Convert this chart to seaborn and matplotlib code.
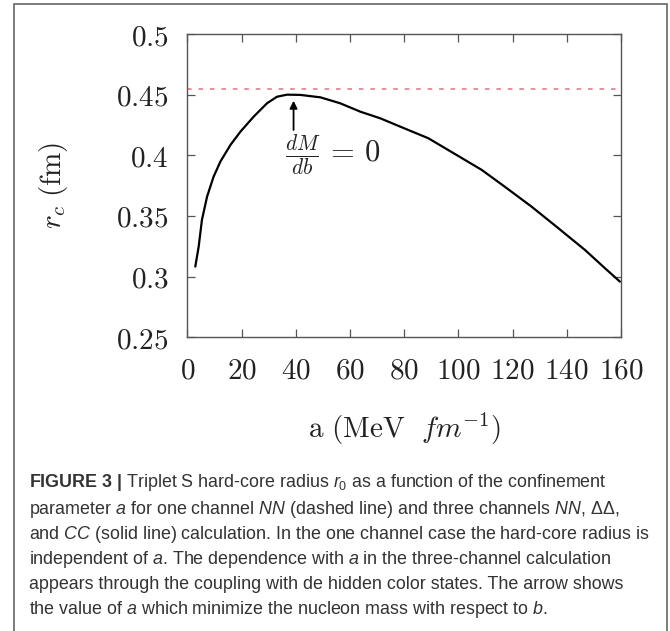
import matplotlib
matplotlib.use("Agg")
import matplotlib.pyplot as plt
import seaborn as sns
import numpy as np
import pandas as pd
from matplotlib import font_manager
from matplotlib.patches import Rectangle

# ---------------- data ----------------
a_vals = [2.95, 4.2, 5.4, 7.3, 9.7, 12.2, 15.9, 19.6, 24.5, 29.4, 33.1, 36.8,
          41.7, 49.1, 56.4, 63.8, 71.2, 78.6, 88.9, 98.8, 108.6, 117.2, 127.0,
          136.9, 146.7, 154.1, 159.6]
rc_vals = [0.3083, 0.3248, 0.3468, 0.3660, 0.3824, 0.3948, 0.4085, 0.4195,
           0.4319, 0.4429, 0.4483, 0.4500, 0.4498, 0.4478, 0.4429, 0.4360,
           0.4305, 0.4236, 0.4141, 0.4010, 0.3880, 0.3740, 0.3577, 0.3399,
           0.3220, 0.3069, 0.2959]
nn_a = [0, 160]
nn_rc = [0.4547, 0.4547]
arrow_a = 39.2
arrow_from = 0.4209
arrow_to = 0.4450
xticks = [0, 20, 40, 60, 80, 100, 120, 140, 160]
xtick_labels = ["0", "20", "40", "60", "80", "100", "120", "140", "160"]
yticks = [0.25, 0.30, 0.35, 0.40, 0.45, 0.50]
ytick_labels = ["0.25", "0.3", "0.35", "0.4", "0.45", "0.5"]
caption_lines = [
    r"$\mathbf{FIGURE\ 3\ |}$ Triplet S hard-core radius $r_0$ as a function of the confinement",
    r"parameter $a$ for one channel $NN$ (dashed line) and three channels $NN$, ΔΔ,",
    r"and $CC$ (solid line) calculation. In the one channel case the hard-core radius is",
    r"independent of $a$. The dependence with $a$ in the three-channel calculation",
    r"appears through the coupling with de hidden color states. The arrow shows",
    r"the value of $a$ which minimize the nucleon mass with respect to $b$.",
]

# ---------------- style ----------------
sns.set_style("ticks")
plt.rcParams["mathtext.fontset"] = "cm"
names = {f.name for f in font_manager.fontManager.ttflist}
cap_font = "Liberation Sans Narrow" if "Liberation Sans Narrow" in names else "Liberation Sans"
plt.rcParams["mathtext.rm"] = cap_font
plt.rcParams["mathtext.it"] = cap_font + ":italic"
plt.rcParams["mathtext.bf"] = cap_font + ":bold"

W, H = 670, 631
fig = plt.figure(figsize=(W / 100, H / 100), dpi=100)
ax = fig.add_axes([187.3 / W, 1 - 337.3 / H, (621 - 187.3) / W, (337.3 - 34) / H])

df = pd.DataFrame({"a": a_vals, "rc": rc_vals})
sns.lineplot(data=df, x="a", y="rc", ax=ax, color="black", linewidth=1.6, sort=True)
sns.lineplot(x=nn_a, y=nn_rc, ax=ax, color="#e07383", linewidth=1.1,
             linestyle=(0, (3, 4.5)))

ax.set_xlim(0, 160)
ax.set_ylim(0.25, 0.5)
ax.set_xticks(xticks)
ax.set_xticklabels(["$" + t + "$" for t in xtick_labels])
ax.set_yticks(yticks)
ax.set_yticklabels(["$" + t + "$" for t in ytick_labels])
ax.tick_params(axis="both", which="both", direction="in", length=5.8, width=0.9,
               color="#555555", top=True, right=True, labelsize=21,
               labelcolor="#222222")
ax.tick_params(axis="y", pad=13.5)
ax.tick_params(axis="x", pad=14)
for s in ax.spines.values():
    s.set_color("#555555")
    s.set_linewidth(1.0)

ax.set_xlabel(r"$\mathrm{a\ (MeV}\ \ fm^{-1})$", fontsize=21, color="#222222", labelpad=19)
ax.set_ylabel(r"$r_c\ \mathrm{(fm)}$", fontsize=21, color="#222222", labelpad=33)

ax.annotate("", xy=(arrow_a, arrow_to), xytext=(arrow_a, arrow_from),
            arrowprops=dict(arrowstyle="-|>", color="black", lw=1.3,
                            mutation_scale=11, shrinkA=0, shrinkB=0))
ax.text(36.0, 0.4003, r"$\frac{dM}{db}\,=\,0$", ha="left", va="center",
        fontsize=22, color="#222222")

# outer frame
fig.patches.append(Rectangle((14 / W, -0.05), (666.5 - 14) / W, 1.05 - 4 / H,
                             transform=fig.transFigure, fill=False,
                             edgecolor="#666666", linewidth=1.2, clip_on=False))

# caption
cap_y = [482.7, 509.3, 534.3, 559.3, 584.3, 609.3]
texts = []
for line, y in zip(caption_lines, cap_y):
    t = fig.text(28.7 / W, 1 - y / H, line, ha="left", va="center", fontsize=11,
                 color="#333333", family=cap_font, math_fontfamily="custom")
    texts.append(t)
renderer = fig.canvas.get_renderer()
w3 = texts[2].get_window_extent(renderer).width
target = 648 - 28.7
fs = 11 * target / w3
for t in texts:
    t.set_fontsize(fs)

fig.savefig("out.png", dpi=100)
